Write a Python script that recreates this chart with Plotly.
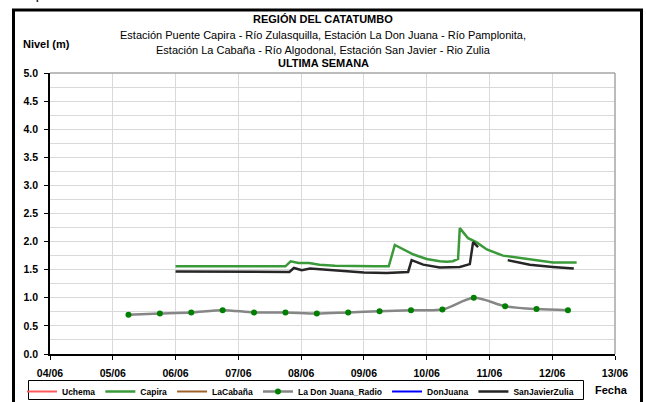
import plotly.graph_objects as go

# Level readings (m) per station
capira_t = ["2014-06-06 00:00", "2014-06-06 08:00", "2014-06-06 16:00", "2014-06-07 00:00",
            "2014-06-07 08:00", "2014-06-07 18:00", "2014-06-07 20:00", "2014-06-07 23:00",
            "2014-06-08 03:00", "2014-06-08 07:00", "2014-06-08 13:00", "2014-06-08 20:00",
            "2014-06-09 04:00", "2014-06-09 09:30", "2014-06-09 11:50", "2014-06-09 19:00",
            "2014-06-10 00:00", "2014-06-10 05:00", "2014-06-10 07:40", "2014-06-10 10:00",
            "2014-06-10 12:00", "2014-06-10 12:40", "2014-06-10 15:50", "2014-06-10 19:00",
            "2014-06-10 23:00", "2014-06-11 05:10", "2014-06-11 15:30", "2014-06-12 00:15",
            "2014-06-12 09:20"]
capira_v = [1.56, 1.56, 1.55, 1.56,
            1.55, 1.56, 1.65, 1.62,
            1.62, 1.59, 1.57, 1.56,
            1.56, 1.56, 1.94, 1.77,
            1.69, 1.65, 1.64, 1.65,
            1.69, 2.24, 2.06, 1.99,
            1.86, 1.75, 1.69, 1.63,
            1.63]

sanjavier_t = ["2014-06-06 00:00", "2014-06-06 06:00", "2014-06-06 12:00", "2014-06-06 18:00",
               "2014-06-07 00:00", "2014-06-07 06:00", "2014-06-07 12:00", "2014-06-07 19:30",
               "2014-06-07 21:15", "2014-06-08 00:15", "2014-06-08 03:25", "2014-06-08 10:00",
               "2014-06-08 16:00", "2014-06-09 00:00", "2014-06-09 08:40", "2014-06-09 16:55",
               "2014-06-09 18:15", "2014-06-09 22:40", "2014-06-10 05:00", "2014-06-10 12:40",
               "2014-06-10 16:30", "2014-06-10 17:45", "2014-06-10 19:40", "2014-06-11 00:00",
               "2014-06-11 07:00", "2014-06-11 15:25", "2014-06-12 00:15", "2014-06-12 08:15"]
sanjavier_v = [1.47, 1.47, 1.46, 1.46,
               1.46, 1.46, 1.47, 1.46,
               1.53, 1.49, 1.52, 1.50,
               1.47, 1.45, 1.44, 1.46,
               1.67, 1.59, 1.54, 1.55,
               1.60, 1.99, 1.90, None,
               1.67, 1.59, 1.55, 1.52]

radio_t = ["2014-06-05 06:00", "2014-06-05 18:00", "2014-06-06 06:00", "2014-06-06 18:00",
           "2014-06-07 06:00", "2014-06-07 18:00", "2014-06-08 06:00", "2014-06-08 18:00",
           "2014-06-09 06:00", "2014-06-09 18:00", "2014-06-10 06:00", "2014-06-10 18:00",
           "2014-06-11 06:00", "2014-06-11 18:00", "2014-06-12 06:00"]
radio_v = [0.70, 0.72, 0.74, 0.78, 0.74, 0.74, 0.72, 0.74,
           0.76, 0.78, 0.79, 1.00, 0.85, 0.80, 0.78]

# Stations without readings this week
empty_t = [None]
empty_v = [None]

y_ticks = [0.0, 0.5, 1.0, 1.5, 2.0, 2.5, 3.0, 3.5, 4.0, 4.5, 5.0]
x_range = ["2014-06-04", "2014-06-13"]

FONT = "Liberation Sans, Arial, sans-serif"

fig = go.Figure()
fig.add_trace(go.Scatter(x=empty_t, y=empty_v, name="Uchema", mode="lines",
                         line=dict(color="#ff5b5b", width=2)))
fig.add_trace(go.Scatter(x=capira_t, y=capira_v, name="Capira", mode="lines",
                         line=dict(color="#3a9a3a", width=2.5)))
fig.add_trace(go.Scatter(x=empty_t, y=empty_v, name="LaCabaña", mode="lines",
                         line=dict(color="#a0622d", width=2)))
fig.add_trace(go.Scatter(x=radio_t, y=radio_v, name="La Don Juana_Radio", mode="lines+markers",
                         line=dict(color="#868686", width=2.5, shape="spline", smoothing=0.8),
                         marker=dict(color="#008000", size=6)))
fig.add_trace(go.Scatter(x=empty_t, y=empty_v, name="DonJuana", mode="lines",
                         line=dict(color="#0000ff", width=2)))
fig.add_trace(go.Scatter(x=sanjavier_t, y=sanjavier_v, name="SanJavierZulia", mode="lines",
                         line=dict(color="#262626", width=2.5), connectgaps=False))

L, R, T, B = 50, 31, 73, 48
W, H = 646, 402
pw, ph = W - L - R, H - T - B


def px(x):
    return (x - L) / pw


def py(y):
    return (H - B - y) / ph


grid = "#d9d9d9"
fig.update_layout(
    width=W, height=H,
    margin=dict(l=L, r=R, t=T, b=B, autoexpand=False),
    paper_bgcolor="white", plot_bgcolor="white",
    font=dict(family=FONT, color="black"),
    showlegend=True,
    legend=dict(orientation="h", x=px(22), y=py(377), xanchor="left", yanchor="top",
                borderwidth=0, bgcolor="rgba(0,0,0,0)",
                font=dict(family=FONT, size=8.5, weight=700), itemwidth=30,
                tracegroupgap=0),
    xaxis=dict(type="date", range=x_range, dtick=86400000, tickformat="%d/%m",
               showgrid=True, gridcolor=grid, gridwidth=1,
               showline=True, linecolor="black", linewidth=1.5,
               ticks="outside", ticklen=4, tickcolor="black",
               tickfont=dict(family=FONT, size=10.5, weight=700), ticklabelstandoff=5,
               zeroline=False, fixedrange=True),
    yaxis=dict(range=[0, 5], tickvals=y_ticks, tickformat=".1f",
               showgrid=True, gridcolor=grid, gridwidth=1,
               minor=dict(dtick=0.25, showgrid=True, gridcolor=grid, gridwidth=1),
               showline=True, linecolor="black", linewidth=1.5,
               ticks="outside", ticklen=4, tickcolor="black",
               tickfont=dict(family=FONT, size=10.5, weight=700), ticklabelstandoff=4,
               zeroline=False, fixedrange=True),
)

# plot frame (top/right), legend box and outer chart border
fig.add_shape(type="line", xref="paper", yref="paper", x0=0, x1=1, y0=1, y1=1,
              line=dict(color="#a6a6a6", width=1.5))
fig.add_shape(type="line", xref="paper", yref="paper", x0=1, x1=1, y0=0, y1=1,
              line=dict(color="#a6a6a6", width=1.5))
fig.add_shape(type="rect", xref="paper", yref="paper",
              x0=px(28.5), x1=px(583.5), y0=py(380.5), y1=py(399.5),
              line=dict(color="black", width=1), fillcolor="rgba(0,0,0,0)")
fig.add_shape(type="rect", xref="paper", yref="paper",
              x0=px(13.5), x1=px(641.5), y0=py(10), y1=py(410),
              line=dict(color="black", width=3), fillcolor="rgba(0,0,0,0)")

titles = [
    ("<b>REGIÓN DEL CATATUMBO</b>", 19),
    ("Estación Puente Capira - Río Zulasquilla, Estación La Don Juana - Río Pamplonita,", 35),
    ("Estación La Cabaña - Río Algodonal, Estación San Javier - Rio Zulia", 50),
    ("<b>ULTIMA SEMANA</b>", 63),
]
for text, yy in titles:
    fig.add_annotation(text=text, xref="paper", yref="paper", x=px(323), y=py(yy),
                       xanchor="center", yanchor="middle", showarrow=False,
                       font=dict(family=FONT, size=11, color="black"))

fig.add_annotation(text="<b>Nivel (m)</b>", xref="paper", yref="paper", x=px(46), y=py(44),
                   xanchor="center", yanchor="middle", showarrow=False,
                   font=dict(family=FONT, size=11, color="black"))
fig.add_annotation(text="<b>Fecha</b>", xref="paper", yref="paper", x=px(611), y=py(390),
                   xanchor="center", yanchor="middle", showarrow=False,
                   font=dict(family=FONT, size=11, color="black"))
fig.add_annotation(text="Pamplonita.", xref="paper", yref="paper", x=px(0), y=py(5),
                   xanchor="left", yanchor="bottom", showarrow=False,
                   font=dict(family="Open Sans, sans-serif", size=16, color="black"))

fig.write_html("out.html")
